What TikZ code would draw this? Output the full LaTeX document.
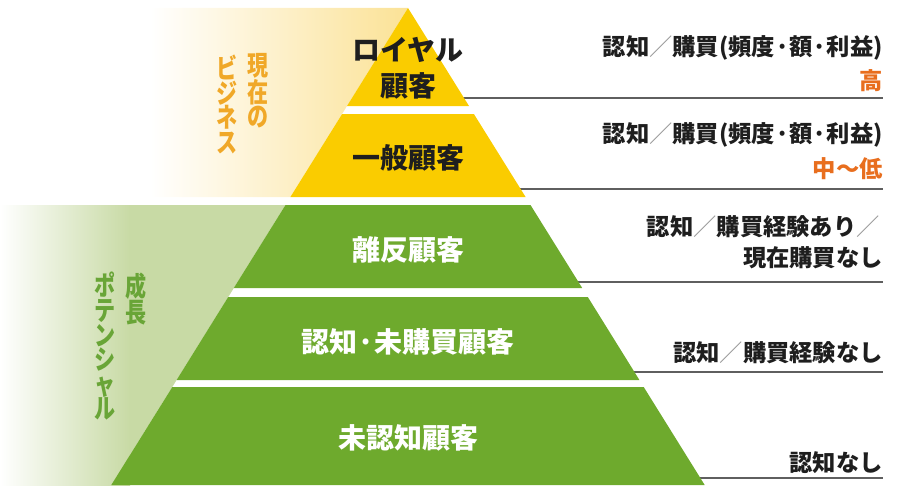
\documentclass[tikz,border=0pt]{standalone}
\usepackage{fontspec}
\setmainfont{Noto Sans CJK JP}
\newfontfamily\condjp{Noto Sans CJK JP}[FakeStretch=0.78]
\definecolor{pyellow}{RGB}{250,204,0}
\definecolor{pgreen}{RGB}{110,170,45}
\definecolor{lightgreen}{RGB}{200,218,165}
\definecolor{lightyel}{RGB}{251,226,150}
\definecolor{vorange}{RGB}{240,168,40}
\definecolor{rorange}{RGB}{232,110,30}
\definecolor{vgreen}{RGB}{105,165,55}
\definecolor{linegray}{RGB}{95,95,95}
\definecolor{slashgray}{RGB}{150,150,150}
\definecolor{txtblack}{RGB}{30,30,30}
\newcommand\jslash{{\mdseries\color{slashgray}／}}
\begin{document}
\begin{tikzpicture}[x=1pt,y=-1pt,
  lbl/.style={font=\fontsize{28}{30}\selectfont\bfseries, inner sep=0pt, anchor=center},
  rtxt/.style={font=\fontsize{23.3}{25}\selectfont\bfseries, inner sep=0pt, anchor=east, text=txtblack},
  vtxt/.style={font=\condjp\fontsize{27}{24.6}\selectfont\bfseries, inner sep=0pt, anchor=north, align=center},
  rule/.style={draw=linegray, line width=1.3pt}]
\useasboundingbox (0,0) rectangle (900,495);
% backgrounds
\shade[left color=white, right color=lightyel] (150,8) -- (408,8) -- (290.4,197) -- (150,197) -- cycle;
\shade[left color=white, right color=lightgreen] (0,205) rectangle (130,485);
\fill[lightgreen] (129.5,205) -- (285.5,205) -- (111.3,485) -- (129.5,485) -- cycle;
% rules on the right
\coordinate (r1s) at (408,98);  \coordinate (r1e) at (883,98);
\coordinate (r2s) at (408,189); \coordinate (r2e) at (883,189);
\coordinate (r3s) at (408,282); \coordinate (r3e) at (883,282);
\coordinate (r4s) at (408,372); \coordinate (r4e) at (883,372);
\coordinate (r5s) at (408,478); \coordinate (r5e) at (883,478);
\draw[rule] (r1s) -- (r1e);
\draw[rule] (r2s) -- (r2e);
\draw[rule] (r3s) -- (r3e);
\draw[rule] (r4s) -- (r4e);
\draw[rule] (r5s) -- (r5e);
% pyramid bands
\fill[pyellow] (408,8) -- (469.0,106) -- (347.0,106) -- cycle;
\fill[pyellow] (342.1,114) -- (473.9,114) -- (525.6,197) -- (290.4,197) -- cycle;
\fill[pgreen] (285.5,205) -- (530.5,205) -- (582.2,288) -- (233.8,288) -- cycle;
\fill[pgreen] (228.2,297) -- (587.8,297) -- (639.4,380) -- (176.6,380) -- cycle;
\fill[pgreen] (172.3,387) -- (643.7,387) -- (704.7,485) -- (111.3,485) -- cycle;
% band labels
\node[lbl, text=txtblack] (loyal1) at (408,50) {ロイヤル};
\node[lbl, text=txtblack] (loyal2) at (408,86) {顧客};
\node[lbl, text=txtblack] (general) at (408,158) {一般顧客};
\node[lbl, text=white] (lapsed) at (408,250) {離反顧客};
\node[lbl, text=white] (aware) at (408,342) {認知·未購買顧客};
\node[lbl, text=white] (unaware) at (408,438) {未認知顧客};
% right descriptions
\node[rtxt] (d1a) at (883,48) {認知\jslash 購買(頻度·額·利益)};
\node[rtxt, text=rorange] (d1b) at (883,81) {高};
\node[rtxt] (d2a) at (883,135) {認知\jslash 購買(頻度·額·利益)};
\node[rtxt, text=rorange] (d2b) at (883,169) {中〜低};
\node[rtxt] (d3a) at (880,227) {認知\jslash 購買経験あり\jslash};
\node[rtxt] (d3b) at (883,258) {現在購買なし};
\node[rtxt] (d4) at (883,353) {認知\jslash 購買経験なし};
\node[rtxt] (d5) at (883,463) {認知なし};
% vertical side labels
\node[vtxt, text=vorange] (cur1) at (258,53) {現\\在\\の};
\node[vtxt, text=vorange] (cur2) at (227,55) {ビ\\ジ\\ネ\\ス};
\node[vtxt, text=vgreen] (grow1) at (136,273) {成\\長};
\node[vtxt, text=vgreen] (grow2) at (105,272) {ポ\\テ\\ン\\シ\\ャ\\ル};
\end{tikzpicture}
\end{document}
